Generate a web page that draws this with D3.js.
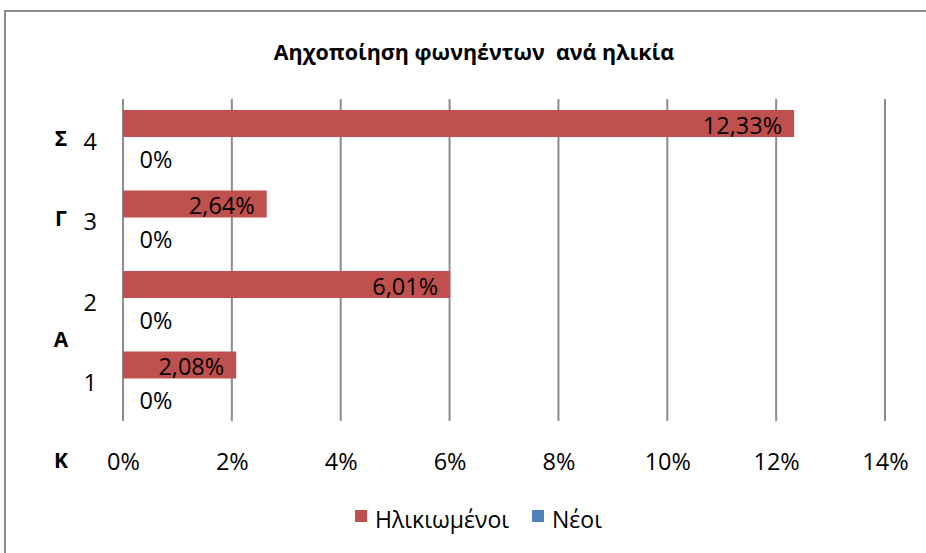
<!DOCTYPE html>
<html>
<head>
<meta charset="utf-8">
<script src="https://cdn.jsdelivr.net/npm/d3@7"></script>
<style>
  html, body { margin: 0; padding: 0; background: #fff; }
  svg { display: block; font-family: "Open Sans", "Noto Sans", sans-serif; }
</style>
</head>
<body>
<svg id="chart" width="926" height="553"></svg>
<script>
// ---- data ----
const title = "Αηχοποίηση φωνηέντων  ανά ηλικία";
const categories = ["4", "3", "2", "1"];           // top to bottom
const seriesNames = ["Ηλικιωμένοι", "Νέοι"];
const elderly = [12.33, 2.64, 6.01, 2.08];
const young = [0, 0, 0, 0];
const elderlyLabels = ["12,33%", "2,64%", "6,01%", "2,08%"];
const youngLabels = ["0%", "0%", "0%", "0%"];
const groupLabels = ["Σ", "Γ", "Α", "Κ"];
const groupMembers = [["4"], ["3"], ["2", "1"], []];
const xTicks = [0, 2, 4, 6, 8, 10, 12, 14];
const colors = ["#C0504D", "#4F81BD"];

// ---- layout ----
const svg = d3.select("#chart");
const plot = { left: 123, right: 885, top: 99, bottom: 421 };

svg.append("rect")
  .attr("x", 5).attr("y", 11).attr("width", 940).attr("height", 560)
  .attr("fill", "none").attr("stroke", "#8c8c8c").attr("stroke-width", 2);

const x = d3.scaleLinear().domain([0, 14]).range([plot.left, plot.right]);
const y = d3.scaleBand().domain(categories).range([plot.top, plot.bottom]).padding(0);
const sub = d3.scaleBand().domain(seriesNames).range([11, 65]).padding(0);

// gridlines
svg.append("g").selectAll("line").data(xTicks).join("line")
  .attr("x1", d => x(d)).attr("x2", d => x(d))
  .attr("y1", plot.top).attr("y2", plot.bottom)
  .attr("stroke", "#8c8c8c").attr("stroke-width", 2);

// x tick labels
const xAxis = d3.axisBottom(x).tickValues(xTicks).tickSize(0).tickPadding(0)
  .tickFormat(d => d + "%");
const gx = svg.append("g").attr("transform", `translate(0,${plot.bottom + 41})`).call(xAxis);
gx.select(".domain").remove();
gx.selectAll("text").attr("font-size", 23.5).attr("fill", "#000")
  .attr("font-family", "Open Sans, Noto Sans, sans-serif")
  .attr("dy", "0.35em").attr("y", 0);

// category labels
const yAxis = d3.axisLeft(y).tickSize(0).tickPadding(26);
const gy = svg.append("g").attr("transform", `translate(${plot.left},0)`).call(yAxis);
gy.select(".domain").remove();
gy.selectAll("text").attr("font-size", 23.5).attr("fill", "#000")
  .attr("font-family", "Open Sans, Noto Sans, sans-serif")
  .attr("dy", "0.45em");

// group labels
groupLabels.forEach((g, i) => {
  const mem = groupMembers[i];
  let cy;
  if (mem.length) {
    const ys = mem.map(c => y(c) + y.bandwidth() / 2);
    cy = (d3.min(ys) + d3.max(ys)) / 2;
  } else {
    cy = plot.bottom + 41;
  }
  svg.append("text").attr("x", 61).attr("y", cy).attr("dy", "0.3em")
    .attr("text-anchor", "middle").attr("font-weight", "bold")
    .attr("font-size", 21).text(g);
});

// bars
const seriesData = [elderly, young];
seriesData.forEach((vals, si) => {
  const name = seriesNames[si];
  svg.append("g").selectAll("rect").data(vals).join("rect")
    .attr("x", x(0))
    .attr("y", (d, i) => y(categories[i]) + sub(name))
    .attr("width", d => x(d) - x(0))
    .attr("height", sub.bandwidth())
    .attr("fill", colors[si]);
});

// data labels
svg.append("g").selectAll("text").data(elderly).join("text")
  .attr("x", d => x(d) - 12)
  .attr("y", (d, i) => y(categories[i]) + sub(seriesNames[0]) + sub.bandwidth() / 2 + 2)
  .attr("dy", "0.35em").attr("text-anchor", "end")
  .attr("font-size", 23.5).attr("fill", "#000")
  .text((d, i) => elderlyLabels[i]);

svg.append("g").selectAll("text").data(young).join("text")
  .attr("x", d => x(d) + 33)
  .attr("y", (d, i) => y(categories[i]) + sub(seriesNames[1]) + sub.bandwidth() / 2 + 9)
  .attr("dy", "0.35em").attr("text-anchor", "middle")
  .attr("font-size", 23.5).attr("fill", "#000")
  .text((d, i) => youngLabels[i]);

// title
svg.append("text").attr("x", 474).attr("y", 52).attr("dy", "0.35em")
  .attr("text-anchor", "middle").attr("font-weight", "bold")
  .attr("font-size", 21.5).attr("fill", "#000")
  .style("white-space", "pre")
  .text(title);

// legend
const legend = svg.append("g");
const legendPos = [{sx: 355, tx: 375}, {sx: 532, tx: 552}];
seriesNames.forEach((n, i) => {
  legend.append("rect").attr("x", legendPos[i].sx).attr("y", 510)
    .attr("width", 12).attr("height", 12).attr("fill", colors[i]);
  legend.append("text").attr("x", legendPos[i].tx).attr("y", 520)
    .attr("dy", "0.35em").attr("font-size", 23).attr("fill", "#000").text(n);
});
</script>
</body>
</html>
